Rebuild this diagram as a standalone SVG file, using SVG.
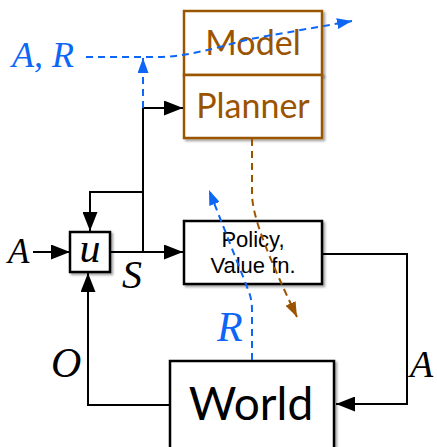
<svg xmlns="http://www.w3.org/2000/svg" width="437" height="447" viewBox="0 0 437 447">
<style>
.box{fill:#fff;stroke:#000;stroke-width:2.5;filter:url(#sh)}
.bbox{fill:#fff;stroke:#9a5400;stroke-width:2.5;filter:url(#sh)}
.gill{font-family:Lato,"Open Sans","DejaVu Sans",sans-serif;text-anchor:middle}
.bt{fill:#9a5400;font-size:34px}
.hv{font-family:"Liberation Sans",Arial,sans-serif;font-size:22px;text-anchor:middle;fill:#000}
.it{font-family:"Liberation Serif","Times New Roman",serif;font-style:italic;fill:#000}
.blue{fill:#0d66f5}
.ln{fill:none;stroke:#000;stroke-width:2}
.bl{fill:none;stroke:#0d66f5;stroke-width:2;stroke-dasharray:7 5}
.br{fill:none;stroke:#9a5400;stroke-width:2;stroke-dasharray:7 5}
</style>
<defs>
<filter id="sh" x="-10%" y="-10%" width="130%" height="130%">
<feDropShadow dx="2" dy="2" stdDeviation="1" flood-color="#000" flood-opacity="0.35"/>
</filter>
<marker id="ak" markerUnits="userSpaceOnUse" markerWidth="19" markerHeight="15" refX="19" refY="7.5" orient="auto">
<path d="M0,0 L19,7.5 L0,15 z" fill="#000"/>
</marker>
<marker id="ab" markerUnits="userSpaceOnUse" markerWidth="15" markerHeight="11" refX="15" refY="5.5" orient="auto">
<path d="M0,0 L15,5.5 L0,11 z" fill="#0d66f5"/>
</marker>
<marker id="ar" markerUnits="userSpaceOnUse" markerWidth="15" markerHeight="11" refX="15" refY="5.5" orient="auto">
<path d="M0,0 L15,5.5 L0,11 z" fill="#9a5400"/>
</marker>
</defs>
<rect width="437" height="447" fill="#fff"/>
<g id="model">
<rect class="bbox" x="184" y="11" width="138" height="64"/>
<text class="gill bt" x="253" y="55">Model</text>
</g>
<g id="planner">
<rect class="bbox" x="184" y="75" width="138" height="63"/>
<text class="gill bt" x="253" y="118">Planner</text>
</g>
<g id="u">
<rect class="box" x="70" y="232" width="40" height="40"/>
<text class="it" x="90" y="262" font-size="42" text-anchor="middle">u</text>
</g>
<g id="policy">
<rect class="box" x="184" y="221" width="138" height="63"/>
<text class="hv" x="253" y="247">Policy,</text>
<text class="hv" x="253" y="273">Value fn.</text>
</g>
<g id="world">
<rect class="box" x="170" y="361" width="164" height="100"/>
<text class="gill" x="251" y="420" font-size="46" fill="#000">World</text>
</g>
<g id="labels">
<text class="it blue" x="12" y="67" font-size="36">A, R</text>
<text class="it" x="8" y="263" font-size="35">A</text>
<text class="it" x="122" y="288" font-size="40">S</text>
<text class="it" x="51" y="377" font-size="42">O</text>
<text class="it blue" x="217" y="341" font-size="42">R</text>
<text class="it" x="410" y="377" font-size="38">A</text>
</g>
<g id="connectors">
<path class="ln" d="M33,252 H70" marker-end="url(#ak)"/>
<path class="ln" d="M110,252 H183" marker-end="url(#ak)"/>
<path class="ln" d="M143,252 V108 H183" marker-end="url(#ak)"/>
<path class="ln" d="M143,192 H90 V231" marker-end="url(#ak)"/>
<path class="ln" d="M322,254 H407 V404 H336" marker-end="url(#ak)"/>
<path class="ln" d="M170,405 H88 V273" marker-end="url(#ak)"/>
<path class="bl" d="M143,108 V58" marker-end="url(#ab)"/>
<path class="bl" d="M86,57 H160 C190,56 215,48 250,39 L352,21" marker-end="url(#ab)"/>
<path class="bl" d="M252,360 V310 Q252,300 249,292 L209,190" marker-end="url(#ab)"/>
<path class="br" d="M252,139 V195 C253,220 270,260 297,317" marker-end="url(#ar)"/>
</g>
</svg>
